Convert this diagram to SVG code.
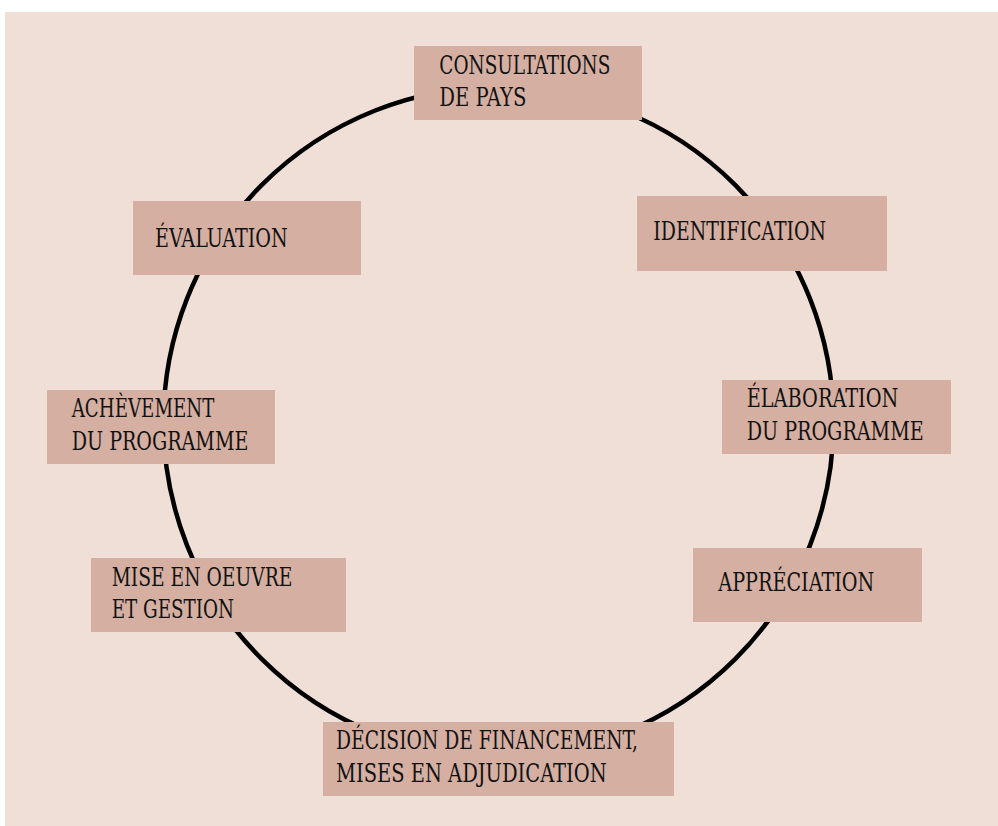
<svg xmlns="http://www.w3.org/2000/svg" width="998" height="826" viewBox="0 0 998 826">
<style>
.bg{fill:#f0dfd7}
.box{fill:#d5afa1}
.t{font-family:"DejaVu Serif","Liberation Serif",serif;font-stretch:condensed;font-size:26px;fill:#111}
.ring{fill:none;stroke:#000;stroke-width:4.5}
</style>
<rect class="bg" x="5" y="12" width="993" height="814"/>
<g id="connectors">
<circle class="ring" cx="498.5" cy="422" r="335"/>
</g>
<g id="consultations">
<rect class="box" x="414" y="46" width="228" height="74"/>
<text class="t" x="439.3" y="74" textLength="171" lengthAdjust="spacingAndGlyphs">CONSULTATIONS</text>
<text class="t" x="439.3" y="106" textLength="87" lengthAdjust="spacingAndGlyphs">DE PAYS</text>
</g>
<g id="identification">
<rect class="box" x="637" y="196" width="250" height="75"/>
<text class="t" x="653.3" y="239.5" textLength="172.7" lengthAdjust="spacingAndGlyphs">IDENTIFICATION</text>
</g>
<g id="elaboration">
<rect class="box" x="722" y="380" width="229" height="74"/>
<text class="t" x="746.7" y="407" textLength="151.7" lengthAdjust="spacingAndGlyphs">ÉLABORATION</text>
<text class="t" x="746.7" y="439.5" textLength="177" lengthAdjust="spacingAndGlyphs">DU PROGRAMME</text>
</g>
<g id="appreciation">
<rect class="box" x="693" y="548" width="229" height="74"/>
<text class="t" x="718.3" y="591" textLength="156" lengthAdjust="spacingAndGlyphs">APPRÉCIATION</text>
</g>
<g id="decision">
<rect class="box" x="323" y="722" width="351" height="74"/>
<text class="t" x="336" y="748.5" textLength="302" lengthAdjust="spacingAndGlyphs">DÉCISION DE FINANCEMENT,</text>
<text class="t" x="336" y="782" textLength="270.7" lengthAdjust="spacingAndGlyphs">MISES EN ADJUDICATION</text>
</g>
<g id="mise-en-oeuvre">
<rect class="box" x="91" y="558" width="255" height="74"/>
<text class="t" x="111.7" y="586" textLength="180.7" lengthAdjust="spacingAndGlyphs">MISE EN OEUVRE</text>
<text class="t" x="111.7" y="618" textLength="122.3" lengthAdjust="spacingAndGlyphs">ET GESTION</text>
</g>
<g id="achevement">
<rect class="box" x="47" y="390" width="228" height="74"/>
<text class="t" x="71.7" y="417" textLength="142.7" lengthAdjust="spacingAndGlyphs">ACHÈVEMENT</text>
<text class="t" x="71.7" y="449.5" textLength="176.7" lengthAdjust="spacingAndGlyphs">DU PROGRAMME</text>
</g>
<g id="evaluation">
<rect class="box" x="133" y="201" width="228" height="74"/>
<text class="t" x="155" y="247" textLength="132.7" lengthAdjust="spacingAndGlyphs">ÉVALUATION</text>
</g>
</svg>
